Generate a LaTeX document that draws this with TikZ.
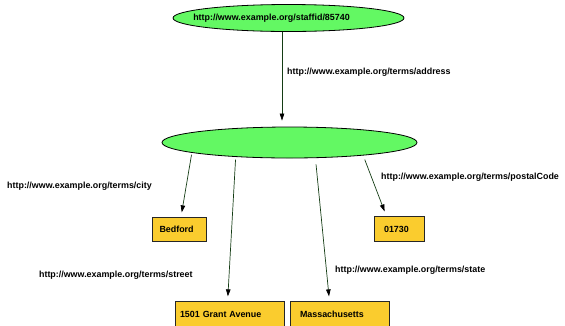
\documentclass[tikz,border=0pt]{standalone}
\usepackage{fontspec}
\setmainfont{Liberation Sans}
\usetikzlibrary{shapes.geometric,arrows.meta}
\definecolor{nodegreen}{RGB}{99,248,99}
\definecolor{boxyellow}{RGB}{250,204,46}
\definecolor{edgegreen}{RGB}{20,60,20}
\tikzset{
  ell/.style={ellipse,draw=black,line width=0.8pt,fill=nodegreen,inner sep=0pt,
    font=\fontsize{8.9}{10}\selectfont\bfseries},
  lit/.style={rectangle,draw=black!85,line width=0.7pt,fill=boxyellow,inner ysep=0pt,
    minimum height=24.5pt,align=left,font=\fontsize{8.9}{10}\selectfont\bfseries},
  elabel/.style={anchor=west,inner sep=0pt,font=\fontsize{8.9}{10}\selectfont\bfseries},
  conn/.style={draw=edgegreen,line width=0.7pt,-{Triangle[length=7pt,width=4.5pt,black]}},
}
\begin{document}
\begin{tikzpicture}[x=1pt,y=-1pt]
\useasboundingbox (0,0) rectangle (565,325);
\clip (0,0) rectangle (565,325);
% nodes
\node[ell,minimum width=231pt,minimum height=27pt] (staff) at (288.5,18)
  {\hspace*{-34pt}http://www.example.org/staffid/85740};
\node[ell,minimum width=255pt,minimum height=31pt] (addr) at (289.5,142.5) {};
\node[lit,inner xsep=7.5pt,text width=39pt] (bedford) at (179,229.5) {Bedford};
\node[lit,inner xsep=10pt,text width=30.3pt] (postal) at (399.2,229) {01730};
\node[lit,inner xsep=5pt,text width=99pt,minimum height=25pt] (street) at (229.5,314.2) {1501 Grant Avenue};
\node[lit,inner xsep=10pt,text width=79pt,minimum height=25pt] (state) at (339.5,314.2) {Massachusetts};
% edge labels
\node[elabel] (laddr) at (287,72) {http://www.example.org/terms/address};
\node[elabel] (lcity) at (7,186) {http://www.example.org/terms/city};
\node[elabel] (lpostal) at (381,177.5) {http://www.example.org/terms/postalCode};
\node[elabel] (lstreet) at (38.9,275) {http://www.example.org/terms/street};
\node[elabel] (lstate) at (335,270) {http://www.example.org/terms/state};
% connectors
\draw[conn,shorten >=6pt] ([xshift=-6.5pt]staff.south) -- ([xshift=-7.5pt]addr.north);
\draw[conn,shorten <=2pt,shorten >=4.6pt] (addr.186.3) -- ([xshift=2pt]bedford.north);
\draw[conn,shorten <=2.6pt,shorten >=5pt] (addr.195.6) -- ([xshift=-1.9pt]street.north);
\draw[conn,shorten <=6.4pt,shorten >=5pt] (addr.329.3) -- ([xshift=-10pt]state.north);
\draw[conn,shorten <=4.4pt,shorten >=5.3pt] (addr.350.4) -- ([xshift=-12.7pt]postal.north);
\end{tikzpicture}
\end{document}
